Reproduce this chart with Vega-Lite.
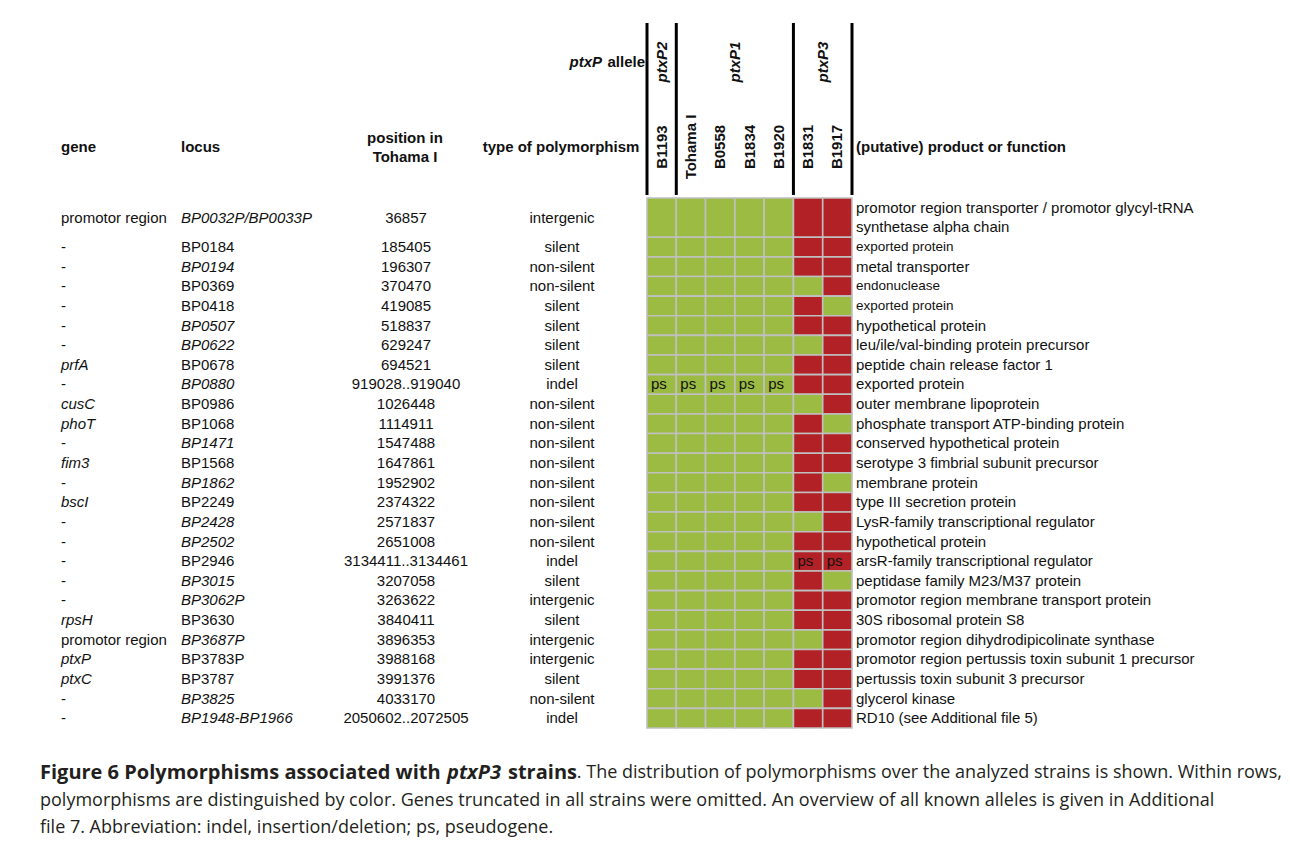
{
  "$schema": "https://vega.github.io/schema/vega-lite/v6.json",
  "width": 1290,
  "height": 848,
  "autosize": {"type": "none"},
  "padding": 0,
  "background": "white",
  "config": {
    "view": {"stroke": null},
    "text": {"font": "Liberation Sans", "fontSize": 15, "color": "#111111"}
  },
  "datasets": {
    "rows": [
      {"gene": "promotor region", "locus": "BP0032P/BP0033P", "position": "36857", "type": "intergenic", "product": ["promotor region transporter / promotor glycyl-tRNA", "synthetase alpha chain"], "B1193": "A", "Tohama I": "A", "B0558": "A", "B1834": "A", "B1920": "A", "B1831": "B", "B1917": "B"},
      {"gene": "-", "locus": "BP0184", "position": "185405", "type": "silent", "product": "exported protein", "B1193": "A", "Tohama I": "A", "B0558": "A", "B1834": "A", "B1920": "A", "B1831": "B", "B1917": "B"},
      {"gene": "-", "locus": "BP0194", "position": "196307", "type": "non-silent", "product": "metal transporter", "B1193": "A", "Tohama I": "A", "B0558": "A", "B1834": "A", "B1920": "A", "B1831": "B", "B1917": "B"},
      {"gene": "-", "locus": "BP0369", "position": "370470", "type": "non-silent", "product": "endonuclease", "B1193": "A", "Tohama I": "A", "B0558": "A", "B1834": "A", "B1920": "A", "B1831": "A", "B1917": "B"},
      {"gene": "-", "locus": "BP0418", "position": "419085", "type": "silent", "product": "exported protein", "B1193": "A", "Tohama I": "A", "B0558": "A", "B1834": "A", "B1920": "A", "B1831": "B", "B1917": "A"},
      {"gene": "-", "locus": "BP0507", "position": "518837", "type": "silent", "product": "hypothetical protein", "B1193": "A", "Tohama I": "A", "B0558": "A", "B1834": "A", "B1920": "A", "B1831": "B", "B1917": "B"},
      {"gene": "-", "locus": "BP0622", "position": "629247", "type": "silent", "product": "leu/ile/val-binding protein precursor", "B1193": "A", "Tohama I": "A", "B0558": "A", "B1834": "A", "B1920": "A", "B1831": "A", "B1917": "B"},
      {"gene": "prfA", "locus": "BP0678", "position": "694521", "type": "silent", "product": "peptide chain release factor 1", "B1193": "A", "Tohama I": "A", "B0558": "A", "B1834": "A", "B1920": "A", "B1831": "B", "B1917": "B"},
      {"gene": "-", "locus": "BP0880", "position": "919028..919040", "type": "indel", "product": "exported protein", "B1193": "A ps", "Tohama I": "A ps", "B0558": "A ps", "B1834": "A ps", "B1920": "A ps", "B1831": "B", "B1917": "B"},
      {"gene": "cusC", "locus": "BP0986", "position": "1026448", "type": "non-silent", "product": "outer membrane lipoprotein", "B1193": "A", "Tohama I": "A", "B0558": "A", "B1834": "A", "B1920": "A", "B1831": "A", "B1917": "B"},
      {"gene": "phoT", "locus": "BP1068", "position": "1114911", "type": "non-silent", "product": "phosphate transport ATP-binding protein", "B1193": "A", "Tohama I": "A", "B0558": "A", "B1834": "A", "B1920": "A", "B1831": "B", "B1917": "A"},
      {"gene": "-", "locus": "BP1471", "position": "1547488", "type": "non-silent", "product": "conserved hypothetical protein", "B1193": "A", "Tohama I": "A", "B0558": "A", "B1834": "A", "B1920": "A", "B1831": "B", "B1917": "B"},
      {"gene": "fim3", "locus": "BP1568", "position": "1647861", "type": "non-silent", "product": "serotype 3 fimbrial subunit precursor", "B1193": "A", "Tohama I": "A", "B0558": "A", "B1834": "A", "B1920": "A", "B1831": "B", "B1917": "B"},
      {"gene": "-", "locus": "BP1862", "position": "1952902", "type": "non-silent", "product": "membrane protein", "B1193": "A", "Tohama I": "A", "B0558": "A", "B1834": "A", "B1920": "A", "B1831": "B", "B1917": "A"},
      {"gene": "bscI", "locus": "BP2249", "position": "2374322", "type": "non-silent", "product": "type III secretion protein", "B1193": "A", "Tohama I": "A", "B0558": "A", "B1834": "A", "B1920": "A", "B1831": "B", "B1917": "B"},
      {"gene": "-", "locus": "BP2428", "position": "2571837", "type": "non-silent", "product": "LysR-family transcriptional regulator", "B1193": "A", "Tohama I": "A", "B0558": "A", "B1834": "A", "B1920": "A", "B1831": "A", "B1917": "B"},
      {"gene": "-", "locus": "BP2502", "position": "2651008", "type": "non-silent", "product": "hypothetical protein", "B1193": "A", "Tohama I": "A", "B0558": "A", "B1834": "A", "B1920": "A", "B1831": "B", "B1917": "B"},
      {"gene": "-", "locus": "BP2946", "position": "3134411..3134461", "type": "indel", "product": "arsR-family transcriptional regulator", "B1193": "A", "Tohama I": "A", "B0558": "A", "B1834": "A", "B1920": "A", "B1831": "B ps", "B1917": "B ps"},
      {"gene": "-", "locus": "BP3015", "position": "3207058", "type": "silent", "product": "peptidase family M23/M37 protein", "B1193": "A", "Tohama I": "A", "B0558": "A", "B1834": "A", "B1920": "A", "B1831": "B", "B1917": "A"},
      {"gene": "-", "locus": "BP3062P", "position": "3263622", "type": "intergenic", "product": "promotor region membrane transport protein", "B1193": "A", "Tohama I": "A", "B0558": "A", "B1834": "A", "B1920": "A", "B1831": "B", "B1917": "B"},
      {"gene": "rpsH", "locus": "BP3630", "position": "3840411", "type": "silent", "product": "30S ribosomal protein S8", "B1193": "A", "Tohama I": "A", "B0558": "A", "B1834": "A", "B1920": "A", "B1831": "B", "B1917": "B"},
      {"gene": "promotor region", "locus": "BP3687P", "position": "3896353", "type": "intergenic", "product": "promotor region dihydrodipicolinate synthase", "B1193": "A", "Tohama I": "A", "B0558": "A", "B1834": "A", "B1920": "A", "B1831": "A", "B1917": "B"},
      {"gene": "ptxP", "locus": "BP3783P", "position": "3988168", "type": "intergenic", "product": "promotor region pertussis toxin subunit 1 precursor", "B1193": "A", "Tohama I": "A", "B0558": "A", "B1834": "A", "B1920": "A", "B1831": "B", "B1917": "B"},
      {"gene": "ptxC", "locus": "BP3787", "position": "3991376", "type": "silent", "product": "pertussis toxin subunit 3 precursor", "B1193": "A", "Tohama I": "A", "B0558": "A", "B1834": "A", "B1920": "A", "B1831": "B", "B1917": "B"},
      {"gene": "-", "locus": "BP3825", "position": "4033170", "type": "non-silent", "product": "glycerol kinase", "B1193": "A", "Tohama I": "A", "B0558": "A", "B1834": "A", "B1920": "A", "B1831": "A", "B1917": "B"},
      {"gene": "-", "locus": "BP1948-BP1966", "position": "2050602..2072505", "type": "indel", "product": "RD10 (see Additional file 5)", "B1193": "A", "Tohama I": "A", "B0558": "A", "B1834": "A", "B1920": "A", "B1831": "B", "B1917": "B"}
    ],
    "strains": [
      {"strain": "B1193", "allele": "ptxP2"},
      {"strain": "Tohama I", "allele": "ptxP1"},
      {"strain": "B0558", "allele": "ptxP1"},
      {"strain": "B1834", "allele": "ptxP1"},
      {"strain": "B1920", "allele": "ptxP1"},
      {"strain": "B1831", "allele": "ptxP3"},
      {"strain": "B1917", "allele": "ptxP3"}
    ]
  },
  "layer": [
    {
      "data": {"values": [{}]},
      "mark": {"type": "rule", "x": 9, "x2": 1287, "y": 7, "stroke": "#1a1a1a", "strokeWidth": 1.5},
      "encoding": {}
    },
    {
      "data": {"values": [{}]},
      "mark": {"type": "rule", "x": 9, "y": 7, "y2": 750, "stroke": "#1a1a1a", "strokeWidth": 1.5},
      "encoding": {}
    },
    {
      "data": {"name": "strains"},
      "mark": {"type": "text", "angle": 270, "align": "center", "baseline": "middle", "fontWeight": "bold", "fontSize": 15, "y": 147},
      "encoding": {
        "x": {"field": "strain", "type": "nominal", "scale": {"domain": ["B1193", "Tohama I", "B0558", "B1834", "B1920", "B1831", "B1917"], "range": [647, 852], "paddingInner": 0, "paddingOuter": 0}, "axis": null},
        "text": {"field": "strain"}
      }
    },
    {
      "data": {"name": "strains"},
      "transform": [
        {"window": [{"op": "row_number", "as": "rank"}], "groupby": ["allele"]},
        {"filter": "datum.rank === 1"}
      ],
      "mark": {"type": "rule", "y": 23, "y2": 195, "stroke": "#000000", "strokeWidth": 3},
      "encoding": {
        "x": {"field": "strain", "type": "nominal", "bandPosition": 0}
      }
    },
    {
      "data": {"values": [{}]},
      "mark": {"type": "rule", "y": 23, "y2": 195, "stroke": "#000000", "strokeWidth": 3},
      "encoding": {"x": {"datum": "B1917", "type": "nominal", "bandPosition": 1}}
    },
    {
      "data": {"values": [{}]},
      "mark": {"type": "rule", "x": 645.5, "x2": 853.5, "y": 23, "stroke": "#000000", "strokeWidth": 3},
      "encoding": {}
    },
    {
      "data": {"values": [{}]},
      "mark": {"type": "rule", "x": 645.5, "x2": 853.5, "y": 195, "stroke": "#000000", "strokeWidth": 3},
      "encoding": {}
    },
    {
      "data": {"values": [{}]},
      "mark": {"type": "text", "text": "ptxP2", "angle": 270, "align": "center", "baseline": "middle", "fontWeight": "bold", "fontStyle": "italic", "y": 62},
      "encoding": {"x": {"datum": "B1193", "type": "nominal", "bandPosition": 0.5}}
    },
    {
      "data": {"values": [{}]},
      "mark": {"type": "text", "text": "ptxP1", "angle": 270, "align": "center", "baseline": "middle", "fontWeight": "bold", "fontStyle": "italic", "y": 62},
      "encoding": {"x": {"datum": "B1834", "type": "nominal", "bandPosition": 0}}
    },
    {
      "data": {"values": [{}]},
      "mark": {"type": "text", "text": "ptxP3", "angle": 270, "align": "center", "baseline": "middle", "fontWeight": "bold", "fontStyle": "italic", "y": 62},
      "encoding": {"x": {"datum": "B1917", "type": "nominal", "bandPosition": 0}}
    },
    {
      "data": {"values": [{}]},
      "mark": {"type": "text", "text": "allele", "align": "right", "baseline": "middle", "fontWeight": "bold", "x": 645, "y": 62},
      "encoding": {}
    },
    {
      "data": {"values": [{}]},
      "mark": {"type": "text", "text": "ptxP", "align": "right", "baseline": "middle", "fontWeight": "bold", "fontStyle": "italic", "x": 602, "y": 62},
      "encoding": {}
    },
    {
      "data": {"values": [{}]},
      "mark": {"type": "text", "text": "gene", "align": "left", "baseline": "middle", "fontWeight": "bold", "x": 61, "y": 147},
      "encoding": {}
    },
    {
      "data": {"values": [{}]},
      "mark": {"type": "text", "text": "locus", "align": "left", "baseline": "middle", "fontWeight": "bold", "x": 181, "y": 147},
      "encoding": {}
    },
    {
      "data": {"values": [{}]},
      "mark": {"type": "text", "text": ["position in", "Tohama I"], "lineHeight": 19, "align": "center", "baseline": "middle", "fontWeight": "bold", "x": 405, "y": 138},
      "encoding": {}
    },
    {
      "data": {"values": [{}]},
      "mark": {"type": "text", "text": "type of polymorphism", "align": "center", "baseline": "middle", "fontWeight": "bold", "x": 561, "y": 147},
      "encoding": {}
    },
    {
      "data": {"values": [{}]},
      "mark": {"type": "text", "text": "(putative) product or function", "align": "left", "baseline": "middle", "fontWeight": "bold", "x": 856, "y": 147},
      "encoding": {}
    },
    {
      "data": {"name": "rows"},
      "transform": [
        {"calculate": "isArray(datum.product) ? length(datum.product) : 1", "as": "lines"},
        {"window": [{"op": "sum", "field": "lines", "as": "end"}], "frame": [null, 0]},
        {"calculate": "datum.end - datum.lines", "as": "start"},
        {"calculate": "(datum.start + datum.end) / 2", "as": "mid"},
        {"calculate": "datum.start + 0.5", "as": "firstLine"},
        {"calculate": "indexof(['BP0032P/BP0033P','BP0194','BP0507','BP0622','BP0880','BP1471','BP1862','BP2428','BP2502','BP3015','BP3062P','BP3687P','BP3825','BP1948-BP1966'], datum.locus) >= 0", "as": "locusItalic"},
        {"calculate": "datum.gene !== '-' && datum.gene !== 'promotor region'", "as": "geneItalic"}
      ],
      "layer": [
        {
          "transform": [
            {"fold": ["B1193", "Tohama I", "B0558", "B1834", "B1920", "B1831", "B1917"], "as": ["strain", "state"]},
            {"calculate": "substring(datum.state, 0, 1)", "as": "variant"}
          ],
          "mark": {"type": "rect", "stroke": "#c0c0c0", "strokeWidth": 1.6},
          "encoding": {
            "x": {"field": "strain", "type": "nominal", "scale": {"domain": ["B1193", "Tohama I", "B0558", "B1834", "B1920", "B1831", "B1917"], "range": [647, 852], "paddingInner": 0, "paddingOuter": 0}, "axis": null},
            "y": {"field": "start", "type": "quantitative", "scale": {"domain": [0, 27], "range": [198, 728], "zero": false, "nice": false}, "axis": null},
            "y2": {"field": "end"},
            "color": {"field": "variant", "type": "nominal", "scale": {"domain": ["A", "B"], "range": ["#9bbb42", "#b22126"]}, "legend": null}
          }
        },
        {
          "transform": [
            {"fold": ["B1193", "Tohama I", "B0558", "B1834", "B1920", "B1831", "B1917"], "as": ["strain", "state"]},
            {"filter": "indexof(datum.state, 'ps') >= 0"}
          ],
          "mark": {"type": "text", "align": "left", "baseline": "middle", "dx": 4, "text": "ps"},
          "encoding": {
            "x": {"field": "strain", "type": "nominal", "bandPosition": 0},
            "y": {"field": "mid", "type": "quantitative"}
          }
        },
        {
          "transform": [{"filter": "datum.geneItalic"}],
          "mark": {"type": "text", "align": "left", "baseline": "middle", "x": 61, "fontStyle": "italic"},
          "encoding": {
            "y": {"field": "mid", "type": "quantitative"},
            "text": {"field": "gene"}
          }
        },
        {
          "transform": [{"filter": "!datum.geneItalic"}],
          "mark": {"type": "text", "align": "left", "baseline": "middle", "x": 61},
          "encoding": {
            "y": {"field": "mid", "type": "quantitative"},
            "text": {"field": "gene"}
          }
        },
        {
          "transform": [{"filter": "datum.locusItalic"}],
          "mark": {"type": "text", "align": "left", "baseline": "middle", "x": 181, "fontStyle": "italic"},
          "encoding": {
            "y": {"field": "mid", "type": "quantitative"},
            "text": {"field": "locus"}
          }
        },
        {
          "transform": [{"filter": "!datum.locusItalic"}],
          "mark": {"type": "text", "align": "left", "baseline": "middle", "x": 181},
          "encoding": {
            "y": {"field": "mid", "type": "quantitative"},
            "text": {"field": "locus"}
          }
        },
        {
          "mark": {"type": "text", "align": "center", "baseline": "middle", "x": 406},
          "encoding": {
            "y": {"field": "mid", "type": "quantitative"},
            "text": {"field": "position"}
          }
        },
        {
          "mark": {"type": "text", "align": "center", "baseline": "middle", "x": 562},
          "encoding": {
            "y": {"field": "mid", "type": "quantitative"},
            "text": {"field": "type"}
          }
        },
        {
          "mark": {"type": "text", "align": "left", "baseline": "middle", "x": 856, "lineHeight": 19},
          "encoding": {
            "y": {"field": "firstLine", "type": "quantitative"},
            "text": {"field": "product"},
            "size": {"condition": {"test": "indexof(['BP0184','BP0369','BP0418'], datum.locus) >= 0", "value": 13.5}, "value": 15}
          }
        }
      ]
    },
    {
      "data": {"values": [{}]},
      "mark": {"type": "text", "text": "Figure 6 Polymorphisms associated with", "font": "Open Sans", "fontSize": 20, "fontWeight": "bold", "color": "#231f20", "align": "left", "baseline": "middle", "x": 40, "y": 773},
      "encoding": {}
    },
    {
      "data": {"values": [{}]},
      "mark": {"type": "text", "text": "ptxP3", "font": "Open Sans", "fontSize": 20, "fontWeight": "bold", "fontStyle": "italic", "color": "#231f20", "align": "left", "baseline": "middle", "x": 447, "y": 773},
      "encoding": {}
    },
    {
      "data": {"values": [{}]},
      "mark": {"type": "text", "text": "strains", "font": "Open Sans", "fontSize": 20, "fontWeight": "bold", "color": "#231f20", "align": "left", "baseline": "middle", "x": 508, "y": 773},
      "encoding": {}
    },
    {
      "data": {"values": [{}]},
      "mark": {"type": "text", "text": ". The distribution of polymorphisms over the analyzed strains is shown. Within rows,", "font": "Open Sans", "fontSize": 18, "color": "#231f20", "align": "right", "baseline": "middle", "x": 1282, "y": 773},
      "encoding": {}
    },
    {
      "data": {"values": [{}]},
      "mark": {"type": "text", "text": "polymorphisms are distinguished by color. Genes truncated in all strains were omitted. An overview of all known alleles is given in Additional", "font": "Open Sans", "fontSize": 18, "color": "#231f20", "align": "left", "baseline": "middle", "x": 40, "y": 801},
      "encoding": {}
    },
    {
      "data": {"values": [{}]},
      "mark": {"type": "text", "text": "file 7. Abbreviation: indel, insertion/deletion; ps, pseudogene.", "font": "Open Sans", "fontSize": 18, "color": "#231f20", "align": "left", "baseline": "middle", "x": 40, "y": 828},
      "encoding": {}
    }
  ]
}
